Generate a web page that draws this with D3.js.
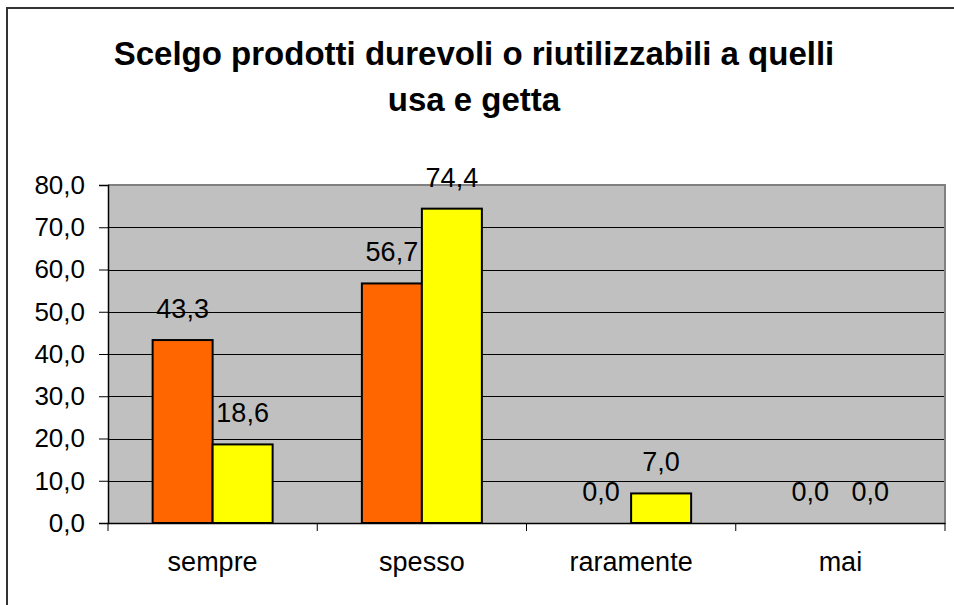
<!DOCTYPE html>
<html><head><meta charset="utf-8">
<script src="https://cdn.jsdelivr.net/npm/d3@7"></script>
<style>body{margin:0;background:#fff}svg{display:block}</style>
</head><body>
<svg id="c" width="954" height="605"></svg>
<script>
const categories = ["sempre", "spesso", "raramente", "mai"];
const seriesA = [43.3, 56.7, 0.0, 0.0];
const seriesB = [18.6, 74.4, 7.0, 0.0];
const yTicks = [0, 10, 20, 30, 40, 50, 60, 70, 80];
const titleLines = ["Scelgo prodotti durevoli o riutilizzabili a quelli", "usa e getta"];
const colors = ["#FF6600", "#FFFF00"];

const svg = d3.select("#c");
const font = "Arial, 'Liberation Sans', sans-serif";
const fmt = v => v.toFixed(1).replace(".", ",");

// outer frame
svg.append("rect").attr("x", 7).attr("y", 8).attr("width", 960).attr("height", 610)
  .attr("fill", "none").attr("stroke", "#333").attr("stroke-width", 2);

// title
svg.append("g").selectAll("text").data(titleLines).join("text")
  .attr("x", 474).attr("y", (d, i) => 65 + i * 46)
  .attr("text-anchor", "middle").attr("font-family", font)
  .attr("font-weight", "bold").attr("font-size", 33).attr("fill", "#000").text(d => d);

const L = 108, R = 945, T = 185, B = 523;
const x = d3.scaleBand().domain(categories).range([L, R]).paddingInner(0).paddingOuter(0);
const y = d3.scaleLinear().domain([0, 80]).range([B, T]);
const bw = x.bandwidth();
const barW = 60, groupOff = (bw - 2 * barW) / 2;

// plot bg
svg.append("rect").attr("x", L).attr("y", T).attr("width", R - L).attr("height", B - T).attr("fill", "#C0C0C0");
// gridlines
svg.append("g").selectAll("line").data(yTicks.filter(t => t > 0 && t < 80)).join("line")
  .attr("x1", L).attr("x2", R).attr("y1", d => Math.round(y(d)) + 0.5).attr("y2", d => Math.round(y(d)) + 0.5)
  .attr("stroke", "#000").attr("stroke-width", 1);
// plot border top/right
svg.append("path").attr("d", `M${L},${T}H${R}V${B}`).attr("fill", "none").attr("stroke", "#808080").attr("stroke-width", 2);

// bars
const series = [seriesA, seriesB];
series.forEach((vals, si) => {
  svg.append("g").selectAll("rect").data(vals).join("rect")
    .attr("x", (d, i) => x(categories[i]) + groupOff + si * barW)
    .attr("y", d => y(d)).attr("width", barW).attr("height", d => y(0) - y(d))
    .attr("fill", colors[si]).attr("stroke", "#000").attr("stroke-width", d => d > 0 ? 2 : 0);
  svg.append("g").selectAll("text").data(vals).join("text")
    .attr("x", (d, i) => x(categories[i]) + groupOff + si * barW + barW / 2)
    .attr("y", d => y(d) - 22)
    .attr("text-anchor", "middle").attr("font-family", font).attr("font-size", 27).attr("fill", "#000")
    .text(d => fmt(d));
});

// y axis
const yAxis = svg.append("g").attr("transform", `translate(${L},0)`)
  .call(d3.axisLeft(y).tickValues(yTicks).tickFormat(fmt).tickSize(9).tickPadding(14));
yAxis.select(".domain").attr("stroke", "#000").attr("stroke-width", 1.5);
yAxis.selectAll("text").attr("font-family", font).attr("font-size", 26).attr("fill", "#000");
yAxis.selectAll("line").attr("stroke", "#000");

// x axis
const xAxis = svg.append("g").attr("transform", `translate(0,${B})`)
  .call(d3.axisBottom(x).tickSize(0).tickPadding(0));
xAxis.select(".domain").attr("stroke", "#000").attr("stroke-width", 1.5);
xAxis.selectAll("text").attr("font-family", font).attr("font-size", 27).attr("fill", "#000")
  .attr("dy", null).attr("y", 48);
svg.append("g").selectAll("line").data(d3.range(categories.length + 1)).join("line")
  .attr("x1", i => i < categories.length ? x(categories[i]) : R).attr("x2", i => i < categories.length ? x(categories[i]) : R)
  .attr("y1", B).attr("y2", B + 8).attr("stroke", "#000");
</script>
</body></html>
